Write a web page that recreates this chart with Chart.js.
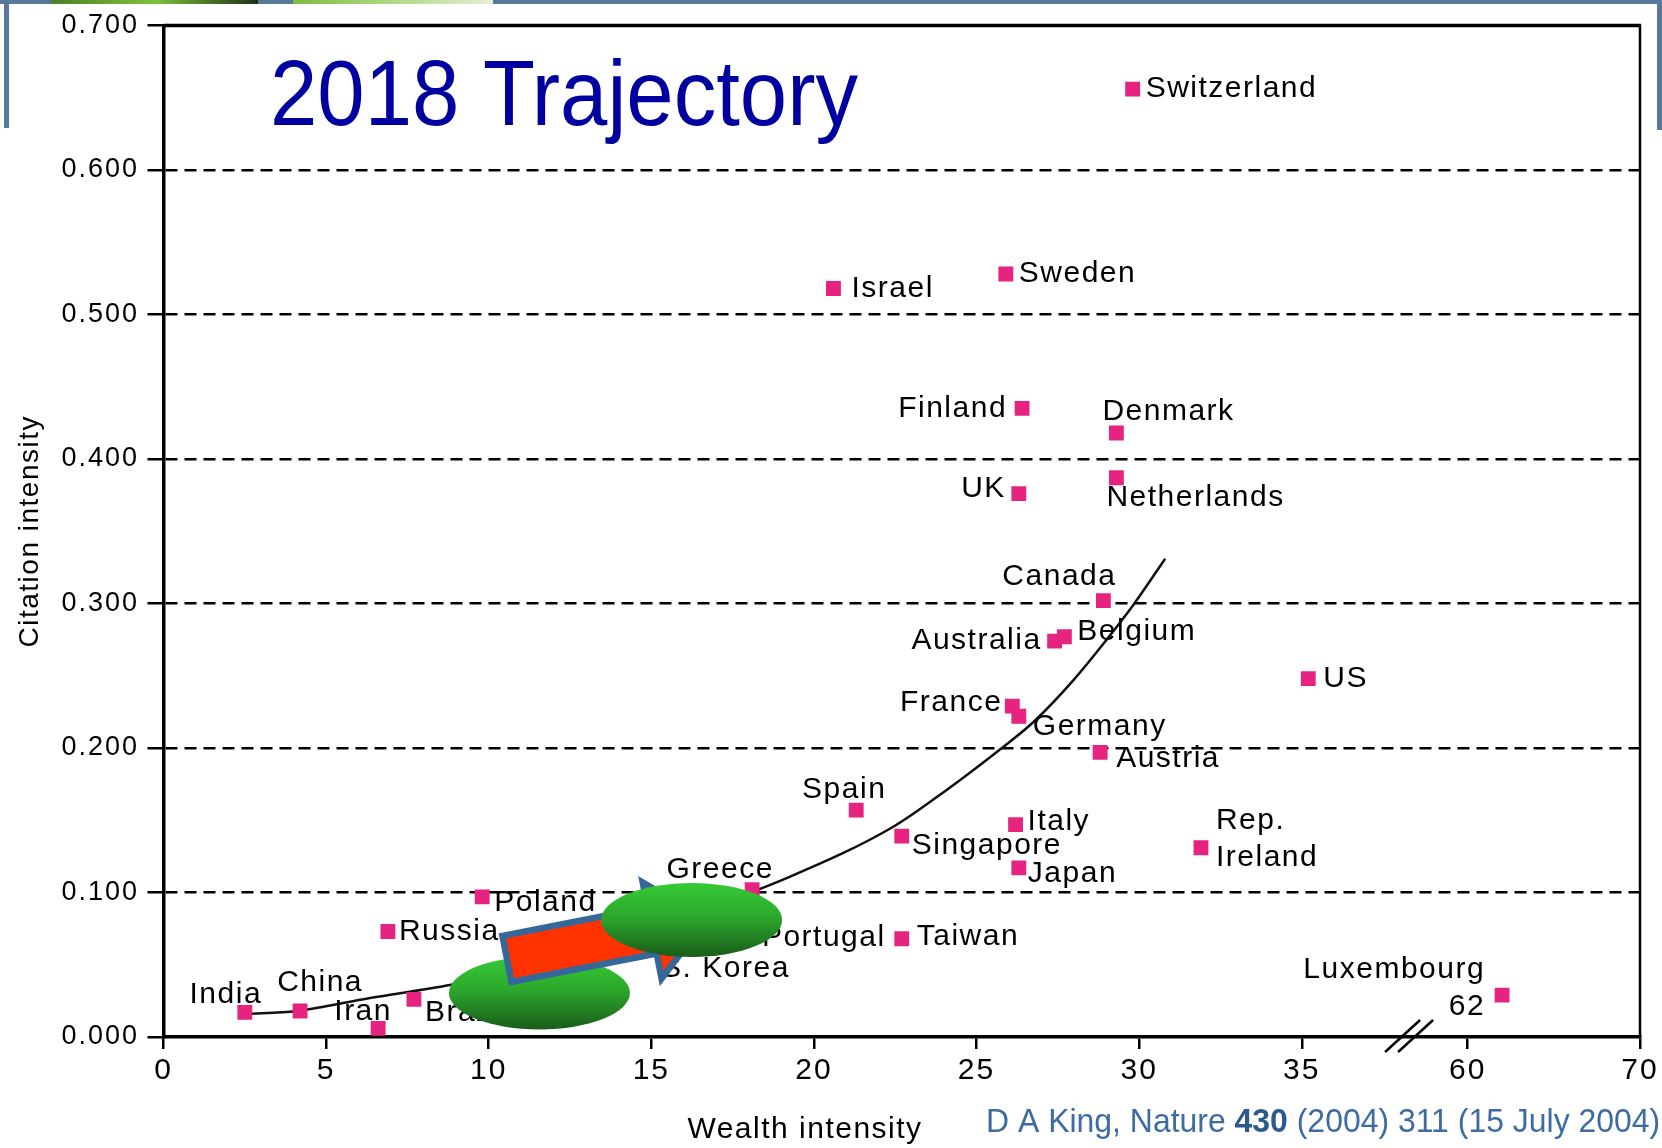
<!DOCTYPE html>
<html>
<head>
<meta charset="utf-8">
<title>2018 Trajectory</title>
<script src="https://cdn.jsdelivr.net/npm/chart.js@4.4.1/dist/chart.umd.min.js"></script>
<style>
  html, body { margin: 0; padding: 0; background: #fff; }
  #chart { display: block; }
</style>
</head>
<body>
<canvas id="chart" width="1662" height="1148"></canvas>
<script>
const FONT = '"Liberation Sans", Arial, Helvetica, sans-serif';

// country data (wealth intensity, citation intensity)
const countries = ['Switzerland', 'Sweden', 'Israel', 'Finland', 'Denmark', 'UK', 'Netherlands',
  'Canada', 'Belgium', 'Australia', 'France', 'Germany', 'Austria', 'US', 'Spain', 'Singapore',
  'Italy', 'Japan', 'Rep.\nIreland', 'Greece', 'Poland', 'Russia', 'Taiwan', 'Portugal',
  'S. Korea', 'India', 'China', 'Iran', 'Brazil', 'Luxembourg\n62'];
const wealth = [29.8, 25.9, 20.6, 26.4, 29.3, 26.3, 29.3, 28.9, 27.7, 27.4, 26.1, 26.3, 28.8,
  35.2, 21.3, 22.7, 26.2, 26.3, 31.9, 18.1, 9.8, 6.9, 22.7, 18.0, 14.9, 2.5, 4.2, 6.6, 7.7, 62];
const citation = [0.656, 0.528, 0.518, 0.435, 0.418, 0.376, 0.387, 0.302, 0.277, 0.274, 0.229,
  0.222, 0.197, 0.248, 0.157, 0.139, 0.147, 0.117, 0.131, 0.102, 0.097, 0.073, 0.068, 0.069,
  0.062, 0.017, 0.018, 0.006, 0.026, 0.029];

// the drawn trend curve
const trendWealth = [2.5, 4.1, 6.35, 8.8, 12.0, 15.0, 19.27, 22.44, 24.08, 25.72, 26.75, 27.98, 29.0, 29.82, 30.8];
const trendCitation = [0.016, 0.018, 0.027, 0.036, 0.052, 0.075, 0.111, 0.1455, 0.171, 0.199, 0.218, 0.247, 0.275, 0.299, 0.331];

// axis ticks
const xTickValues = [0, 5, 10, 15, 20, 25, 30, 35, 60, 70];
const yTickValues = [0, 0.1, 0.2, 0.3, 0.4, 0.5, 0.6, 0.7];
const yTickLabels = ['0.000', '0.100', '0.200', '0.300', '0.400', '0.500', '0.600', '0.700'];

// broken x axis: 60..70 squeezed in after 35
const X_TAIL_START = 60, X_TAIL_POS = 40.1, X_TAIL_SCALE = 0.53;
function xPos(v) {
  return v >= X_TAIL_START ? X_TAIL_POS + (v - X_TAIL_START) * X_TAIL_SCALE : v;
}

// label placement next to each marker: [dx, dy, align] in px
const labelPlace = [
  [13, 0, 'left'], [13, 0, 'left'], [18, 0, 'left'], [-15, 0, 'right'], [-14, -21, 'left'],
  [-13, -5, 'right'], [-10, 20, 'left'], [-44, -24, 'center'], [13, -5, 'left'], [-13, 0, 'right'],
  [-10, -3, 'right'], [14, 11, 'left'], [16, 6, 'left'], [15, 0, 'left'], [-12, -20, 'center'],
  [10, 10, 'left'], [12, -3, 'left'], [9, 6, 'left'], [15, -27, 'left'], [-32, -20, 'center'],
  [12, 6, 'left'], [11, 0, 'left'], [15, -2, 'left'], [13, 0, 'left'], [13, 21, 'left'],
  [-19, -18, 'center'], [20, -28, 'center'], [-15, -17, 'center'], [11, 13, 'left'], [-17, -25, 'right']
];

// slide annotations (anchored in data units)
const ovals = [{ x: 11.56, y: 0.0305 }, { x: 16.24, y: 0.081 }];
const arrowFrom = { x: 10.56, y: 0.054 };

function drawOval(ctx, cx, cy, rx, ry) {
  const g = ctx.createLinearGradient(0, cy - ry, 0, cy + ry);
  g.addColorStop(0, '#36CA36');
  g.addColorStop(0.45, '#2CA82C');
  g.addColorStop(1, '#1A5C1A');
  ctx.fillStyle = g;
  ctx.beginPath();
  ctx.ellipse(cx, cy, rx, ry, 0, 0, Math.PI * 2);
  ctx.fill();
}

function drawArrow(ctx, x, y, angle) {
  ctx.save();
  ctx.translate(x, y);
  ctx.rotate(angle);
  ctx.beginPath();
  ctx.moveTo(0, -23.5);
  ctx.lineTo(148, -23.5);
  ctx.lineTo(148, -49);
  ctx.lineTo(203, 0);
  ctx.lineTo(148, 49);
  ctx.lineTo(148, 23.5);
  ctx.lineTo(0, 23.5);
  ctx.closePath();
  ctx.fillStyle = '#FF3300';
  ctx.fill();
  ctx.lineWidth = 6.5;
  ctx.lineJoin = 'miter';
  ctx.strokeStyle = '#36679A';
  ctx.stroke();
  ctx.restore();
}

const slidePlugin = {
  id: 'slide',
  beforeDraw(chart) {
    chart.ctx.letterSpacing = '2px';
  },
  afterDatasetsDraw(chart) {
    const ctx = chart.ctx;
    const xs = chart.scales.x, ys = chart.scales.y;
    const meta = chart.getDatasetMeta(0);

    // country labels
    ctx.save();
    ctx.font = '30px ' + FONT;
    ctx.letterSpacing = '1.5px';
    ctx.fillStyle = '#000';
    ctx.textBaseline = 'middle';
    meta.data.forEach((pt, i) => {
      const [dx, dy, align] = labelPlace[i];
      ctx.textAlign = align;
      countries[i].split('\n').forEach((line, k) => {
        ctx.fillText(line, pt.x + dx, pt.y + dy + k * 37);
      });
    });
    ctx.restore();

    // green ovals and the arrow between them
    ctx.save();
    drawOval(ctx, xs.getPixelForValue(ovals[0].x), ys.getPixelForValue(ovals[0].y), 90.5, 36.5);
    drawArrow(ctx, xs.getPixelForValue(arrowFrom.x), ys.getPixelForValue(arrowFrom.y), -11.1 * Math.PI / 180);
    drawOval(ctx, xs.getPixelForValue(ovals[1].x), ys.getPixelForValue(ovals[1].y), 90.5, 37);
    ctx.restore();
  },
  afterDraw(chart) {
    const ctx = chart.ctx;
    const a = chart.chartArea;
    const xs = chart.scales.x;
    ctx.save();
    ctx.letterSpacing = '0px';

    // frame top + right
    ctx.strokeStyle = '#000';
    ctx.lineWidth = 3.5;
    ctx.beginPath();
    ctx.moveTo(a.left, a.top);
    ctx.lineTo(a.right + 1, a.top);
    ctx.stroke();
    ctx.lineWidth = 2.5;
    ctx.beginPath();
    ctx.moveTo(a.right, a.top);
    ctx.lineTo(a.right, a.bottom);
    ctx.stroke();

    // axis break marks
    const bx = xs.getPixelForValue(38.3);
    ctx.lineWidth = 2.5;
    [-6.5, 6.5].forEach(off => {
      ctx.beginPath();
      ctx.moveTo(bx + off - 17.5, a.bottom + 15);
      ctx.lineTo(bx + off + 17.5, a.bottom - 17);
      ctx.stroke();
    });

    // axis titles
    ctx.fillStyle = '#000';
    ctx.textAlign = 'center';
    ctx.textBaseline = 'middle';
    ctx.letterSpacing = '1.5px';
    ctx.font = '30px ' + FONT;
    ctx.fillText('Wealth intensity', 805, 1130);
    ctx.save();
    ctx.translate(30, (a.top + a.bottom) / 2);
    ctx.rotate(-Math.PI / 2);
    ctx.font = '28px ' + FONT;
    ctx.fillText('Citation intensity', 0, 0);
    ctx.restore();

    // slide title
    ctx.letterSpacing = '0px';
    ctx.save();
    ctx.translate(270, 125);
    ctx.scale(0.915, 1);
    ctx.font = '93px ' + FONT;
    ctx.textAlign = 'left';
    ctx.textBaseline = 'alphabetic';
    ctx.fillStyle = '#0000A0';
    ctx.fillText('2018 Trajectory', 0, 0);
    ctx.restore();

    // source line
    ctx.save();
    ctx.translate(986, 1132);
    ctx.scale(0.968, 1);
    ctx.textAlign = 'left';
    ctx.textBaseline = 'alphabetic';
    const parts = [['D A King, Nature ', false], ['430', true], [' (2004) 311 (15 July 2004)', false]];
    let cx = 0;
    parts.forEach(([t, bold]) => {
      ctx.font = (bold ? 'bold ' : '') + '33px ' + FONT;
      ctx.fillStyle = bold ? '#2C5A8F' : '#3E6CA2';
      ctx.fillText(t, cx, 0);
      cx += ctx.measureText(t).width;
    });
    ctx.restore();

    // slide frame bits
    ctx.fillStyle = '#56789B';
    ctx.fillRect(0, 0, 1662, 4);
    ctx.fillRect(4, 0, 5, 128);
    ctx.fillRect(1657, 0, 5, 130);
    const g1 = ctx.createLinearGradient(51, 0, 258, 0);
    g1.addColorStop(0, '#4F7F2A');
    g1.addColorStop(0.5, '#7CC23A');
    g1.addColorStop(1, '#1E2E14');
    ctx.fillStyle = g1;
    ctx.fillRect(51, 0, 207, 4);
    const g2 = ctx.createLinearGradient(293, 0, 493, 0);
    g2.addColorStop(0, '#7DBE3C');
    g2.addColorStop(1, '#E4F0D4');
    ctx.fillStyle = g2;
    ctx.fillRect(293, 0, 200, 4);
    ctx.restore();
  }
};

window.onload = () => {
  const canvas = document.getElementById('chart');

  const points = wealth.map((w, i) => ({ x: xPos(w), y: citation[i] }));
  const trend = trendWealth.map((w, i) => ({ x: w, y: trendCitation[i] }));

  new Chart(canvas, {
    type: 'scatter',
    data: {
      datasets: [{
        label: 'Countries',
        data: points,
        pointStyle: 'rect',
        pointRadius: 10.5,
        pointHoverRadius: 10.5,
        backgroundColor: '#E6237F',
        borderColor: '#E6237F',
        borderWidth: 0,
        order: 0
      }, {
        label: 'Trajectory',
        data: trend,
        showLine: true,
        pointRadius: 0,
        borderColor: '#111',
        borderWidth: 2.5,
        cubicInterpolationMode: 'monotone',
        order: 1
      }]
    },
    options: {
      responsive: false,
      animation: false,
      events: [],
      layout: { padding: { left: 0, right: 22, top: 25.5, bottom: 0 } },
      plugins: {
        legend: { display: false },
        tooltip: { enabled: false }
      },
      scales: {
        x: {
          type: 'linear',
          min: 0,
          max: xPos(70),
          afterBuildTicks: s => { s.ticks = xTickValues.map(v => ({ value: xPos(v) })); },
          afterFit: s => { s.height = 111; },
          ticks: {
            callback: (v, i) => String(xTickValues[i]),
            font: { size: 30, family: FONT },
            color: '#000',
            padding: 4,
            maxRotation: 0,
            autoSkip: false
          },
          grid: {
            drawOnChartArea: false,
            color: '#000',
            tickColor: '#000',
            tickLength: 12,
            tickWidth: 2.5,
            lineWidth: 2.5
          },
          border: { display: true, color: '#000', width: 3.5 }
        },
        y: {
          type: 'linear',
          min: 0,
          max: 0.7,
          afterBuildTicks: s => { s.ticks = yTickValues.map(v => ({ value: v })); },
          afterFit: s => { s.width = 163.5; },
          ticks: {
            callback: (v, i) => yTickLabels[i],
            font: { size: 27, family: FONT },
            color: '#000',
            padding: 8.5,
            autoSkip: false
          },
          grid: {
            color: c => (c.index === 0 || c.index === yTickValues.length - 1) ? 'rgba(0,0,0,0)' : '#000',
            lineWidth: 2.5,
            tickColor: '#000',
            tickLength: 16,
            tickWidth: 2.5
          },
          border: { display: true, color: '#000', width: 3.5, dash: [12, 7] }
        }
      }
    },
    plugins: [slidePlugin]
  });
};
</script>
</body>
</html>
